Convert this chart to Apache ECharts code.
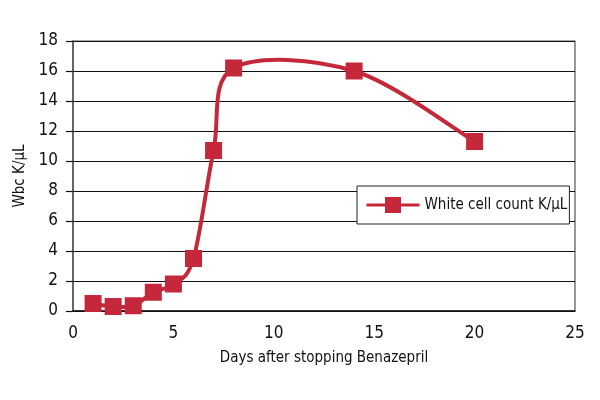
<!DOCTYPE html>
<html><head><meta charset="utf-8">
<script src="https://cdn.jsdelivr.net/npm/echarts@6/dist/echarts.min.js"></script>
<style>html,body{margin:0;padding:0;background:#fff}#c{width:600px;height:400px}</style>
</head><body><div id="c"></div>
<script>
const days = [1, 2, 3, 4, 5, 6, 7, 8, 14, 20];
const wbc = [0.5, 0.3, 0.35, 1.25, 1.8, 3.5, 10.7, 16.2, 16.0, 11.3];
const xTicks = [0, 5, 10, 15, 20, 25];
const yTicks = [0, 2, 4, 6, 8, 10, 12, 14, 16, 18];
const seriesName = 'White cell count K/\u03bcL';
const xTitle = 'Days after stopping Benazepril';
const yTitle = 'Wbc K/\u03bcL';
const FONT = '"DejaVu Sans Condensed", "DejaVu Sans", sans-serif';
const RED = '#c4283a';

// Smooth curve (Catmull-Rom style Bezier, like spreadsheet smoothing) through the data points
function renderCurve(params, api) {
  const pts = days.map((d, i) => api.coord([d, wbc[i]]));
  let path = 'M' + pts[0][0] + ' ' + pts[0][1];
  for (let i = 0; i < pts.length - 1; i++) {
    const p0 = pts[Math.max(0, i - 1)], p1 = pts[i], p2 = pts[i + 1], p3 = pts[Math.min(pts.length - 1, i + 2)];
    const c1 = [p1[0] + (p2[0] - p0[0]) / 6, p1[1] + (p2[1] - p0[1]) / 6];
    const c2 = [p2[0] - (p3[0] - p1[0]) / 6, p2[1] - (p3[1] - p1[1]) / 6];
    path += ' C' + c1[0] + ' ' + c1[1] + ' ' + c2[0] + ' ' + c2[1] + ' ' + p2[0] + ' ' + p2[1];
  }
  return {
    type: 'path', shape: { pathData: path },
    style: { fill: 'none', stroke: RED, lineWidth: 4, lineJoin: 'round', lineCap: 'round' }
  };
}

const chart = echarts.init(document.getElementById('c'));
chart.setOption({
  animation: false,
  textStyle: { fontFamily: FONT },
  grid: { left: 73, right: 25, top: 41, bottom: 89, show: true, borderColor: '#555', borderWidth: 1.2 },
  xAxis: {
    type: 'value', min: xTicks[0], max: xTicks[xTicks.length - 1], interval: xTicks[1] - xTicks[0],
    name: xTitle, nameLocation: 'middle', nameGap: 40,
    nameTextStyle: { fontSize: 15, color: '#111', fontFamily: FONT },
    axisLine: { show: true, lineStyle: { color: '#111', width: 1.5 } },
    axisTick: { show: false },
    axisLabel: { fontSize: 17, color: '#111', margin: 14, fontFamily: FONT },
    splitLine: { show: false }
  },
  yAxis: {
    type: 'value', min: yTicks[0], max: yTicks[yTicks.length - 1], interval: yTicks[1] - yTicks[0],
    name: yTitle, nameLocation: 'middle', nameGap: 43,
    nameTextStyle: { fontSize: 15, color: '#111', fontFamily: FONT },
    axisLine: { show: true, lineStyle: { color: '#555', width: 1.5 } },
    axisTick: { show: true, length: 7, lineStyle: { color: '#111', width: 1.2 } },
    axisLabel: { fontSize: 17, color: '#111', margin: 15, fontFamily: FONT },
    splitLine: { show: true, lineStyle: { color: '#111', width: 1.2 } }
  },
  legend: {
    show: true, left: 357, top: 186,
    padding: [11, 2, 11, 8],
    borderColor: '#222', borderWidth: 1, backgroundColor: '#fff',
    itemWidth: 53, itemHeight: 20, itemGap: 0,
    lineStyle: { width: 3, color: RED, opacity: 1 },
    textStyle: { fontSize: 15, color: '#111', fontFamily: FONT },
    data: [{ name: seriesName }]
  },
  series: [
    {
      name: 'curve', type: 'custom', data: [0], renderItem: renderCurve, z: 2, silent: true
    },
    {
      name: seriesName, type: 'line', data: days.map((d, i) => [d, wbc[i]]),
      symbol: 'rect', symbolSize: 17, z: 3,
      lineStyle: { color: RED, width: 4, opacity: 0 }, itemStyle: { color: RED }
    }
  ]
});
</script></body></html>
